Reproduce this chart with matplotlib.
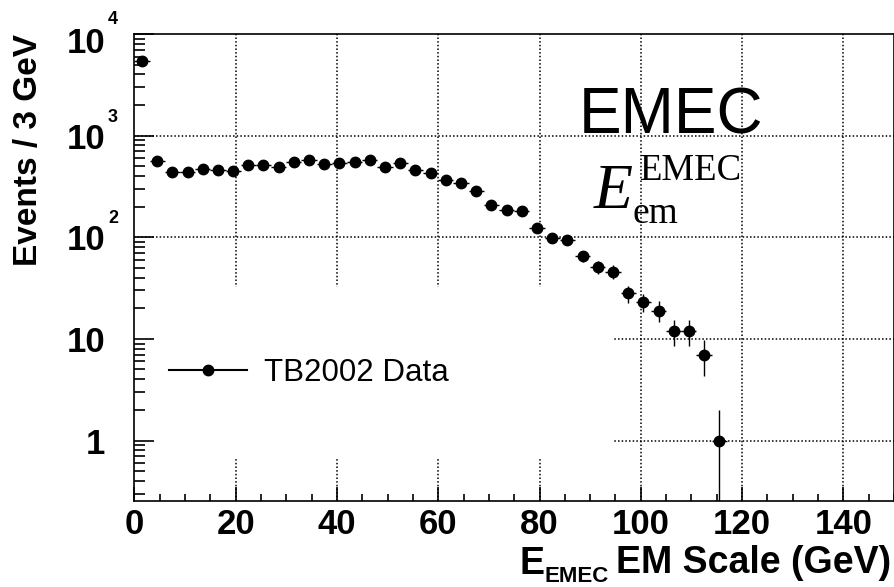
import numpy as np
import matplotlib.pyplot as plt
from matplotlib.patches import Rectangle
from matplotlib.lines import Line2D
from matplotlib.transforms import ScaledTranslation
from matplotlib.ticker import FixedLocator, FixedFormatter, MultipleLocator, LogLocator, NullFormatter

plt.rcParams['font.family'] = 'Liberation Sans'

# 3 GeV bins: centres and event counts
e_bins = np.arange(1.5, 117, 3.0)
counts = np.array([5400, 557, 438, 438, 472, 461, 448, 517, 517, 487,
                   550, 570, 530, 533, 550, 570, 491, 537, 454, 428,
                   362, 345, 282, 208, 186, 183, 124, 98, 93, 65,
                   51, 46, 28, 23, 19, 12, 12, 7, 1])
err_y = np.sqrt(counts)
err_x = 1.5

x_ticks = [0, 20, 40, 60, 80, 100, 120, 140]
y_ticks = [1, 10, 100, 1000, 10000]
y_ticklabels = ['1', '10', '10', '10', '10']
y_exponents = {100: '2', 1000: '3', 10000: '4'}

fig = plt.figure(figsize=(8.95, 5.87), dpi=100)
ax = fig.add_axes([0.1501, 0.1465, 0.8488, 0.7956])
ax.set_yscale('log')
ax.set_xlim(0, 150)
ax.set_ylim(0.254, 10000)

# dotted grid, drawn by hand so the legend box can hide part of it
grid_style = dict(color='black', lw=1.1, ls=(0, (1, 1.4)), zorder=0.6)
for x in x_ticks[1:]:
    ax.axvline(x, **grid_style)
for y in y_ticks[:-1]:
    ax.axhline(y, **grid_style)
ax.add_patch(Rectangle((0, 0.094), 0.630, 0.364, transform=ax.transAxes,
                       facecolor='white', edgecolor='none', zorder=0.8))

ax.errorbar(e_bins, counts, xerr=err_x, yerr=err_y, fmt='o', color='black',
            ms=7.5, elinewidth=1.0, capsize=0, zorder=3)

handle = Line2D([], [], color='black', marker='o', ms=7.5, lw=1.5)
ax.legend([handle], ['TB2002 Data'], loc='center left', bbox_to_anchor=(0.045, 0.274),
          frameon=False, fontsize=22.5, handlelength=2.5, handletextpad=0.55,
          borderpad=0, borderaxespad=0)

ax.xaxis.set_major_locator(FixedLocator(x_ticks))
ax.xaxis.set_minor_locator(MultipleLocator(5))
ax.yaxis.set_major_locator(FixedLocator(y_ticks))
ax.yaxis.set_major_formatter(FixedFormatter(y_ticklabels))
ax.yaxis.set_minor_locator(LogLocator(base=10, subs=np.arange(2, 10)))
ax.yaxis.set_minor_formatter(NullFormatter())
ax.tick_params(which='both', direction='in', top=False, right=False, width=1.2, labelsize=25)
ax.tick_params(axis='x', which='major', length=10, pad=5)
ax.tick_params(axis='x', which='minor', length=5)
ax.tick_params(axis='y', which='major', length=14.4, pad=21)
ax.tick_params(axis='y', which='minor', length=8)
for lab in ax.get_xticklabels() + ax.get_yticklabels():
    lab.set_fontweight('bold')
for sp in ax.spines.values():
    sp.set_linewidth(1.2)

# the top label sits a little lower, inside the frame
top_tick = ax.yaxis.get_major_ticks()[-1]
top_tick.label1.set_transform(top_tick.label1.get_transform()
                              + ScaledTranslation(0, -4 / 72, fig.dpi_scale_trans))

for val, s in y_exponents.items():
    dy = 7 if val == 10000 else 10
    ax.annotate(s, xy=(0, val), xycoords=('axes fraction', 'data'), xytext=(-19, dy),
                textcoords='offset points', ha='left', va='baseline', fontsize=13,
                fontweight='bold', annotation_clip=False)

fig.text(37 / 895, 1 - 34 / 587, 'Events / 3 GeV', rotation=90, rotation_mode='anchor',
         ha='right', va='baseline', fontsize=24, fontweight='bold')

# x title: E with subscript EMEC, then the rest
xt = fig.text(891 / 895, 1 - 573 / 587, 'EM Scale (GeV)', ha='right', va='baseline',
              fontsize=27, fontweight='bold')
xs = ax.annotate('EMEC', xy=(0, 0), xycoords=xt, xytext=(-5, -1), textcoords='offset points',
                 ha='right', va='baseline', fontsize=16, fontweight='bold',
                 annotation_clip=False)
ax.annotate('E', xy=(0, 0), xycoords=xs, xytext=(0, 10), textcoords='offset points',
            ha='right', va='baseline', fontsize=27, fontweight='bold', annotation_clip=False)

# annotation in the upper right
fig.text(579 / 895, 1 - 134 / 587, 'EMEC', fontsize=46, va='baseline')
fig.text(594 / 895, 1 - 208 / 587, 'E', family='Liberation Serif', style='italic',
         fontsize=46, va='baseline')
fig.text(640 / 895, 1 - 180 / 587, 'EMEC', family='Liberation Serif', fontsize=26.5,
         va='baseline')
fig.text(633 / 895, 1 - 223 / 587, 'em', family='Liberation Serif', fontsize=27,
         va='baseline')

fig.savefig('out.png', dpi=100)
